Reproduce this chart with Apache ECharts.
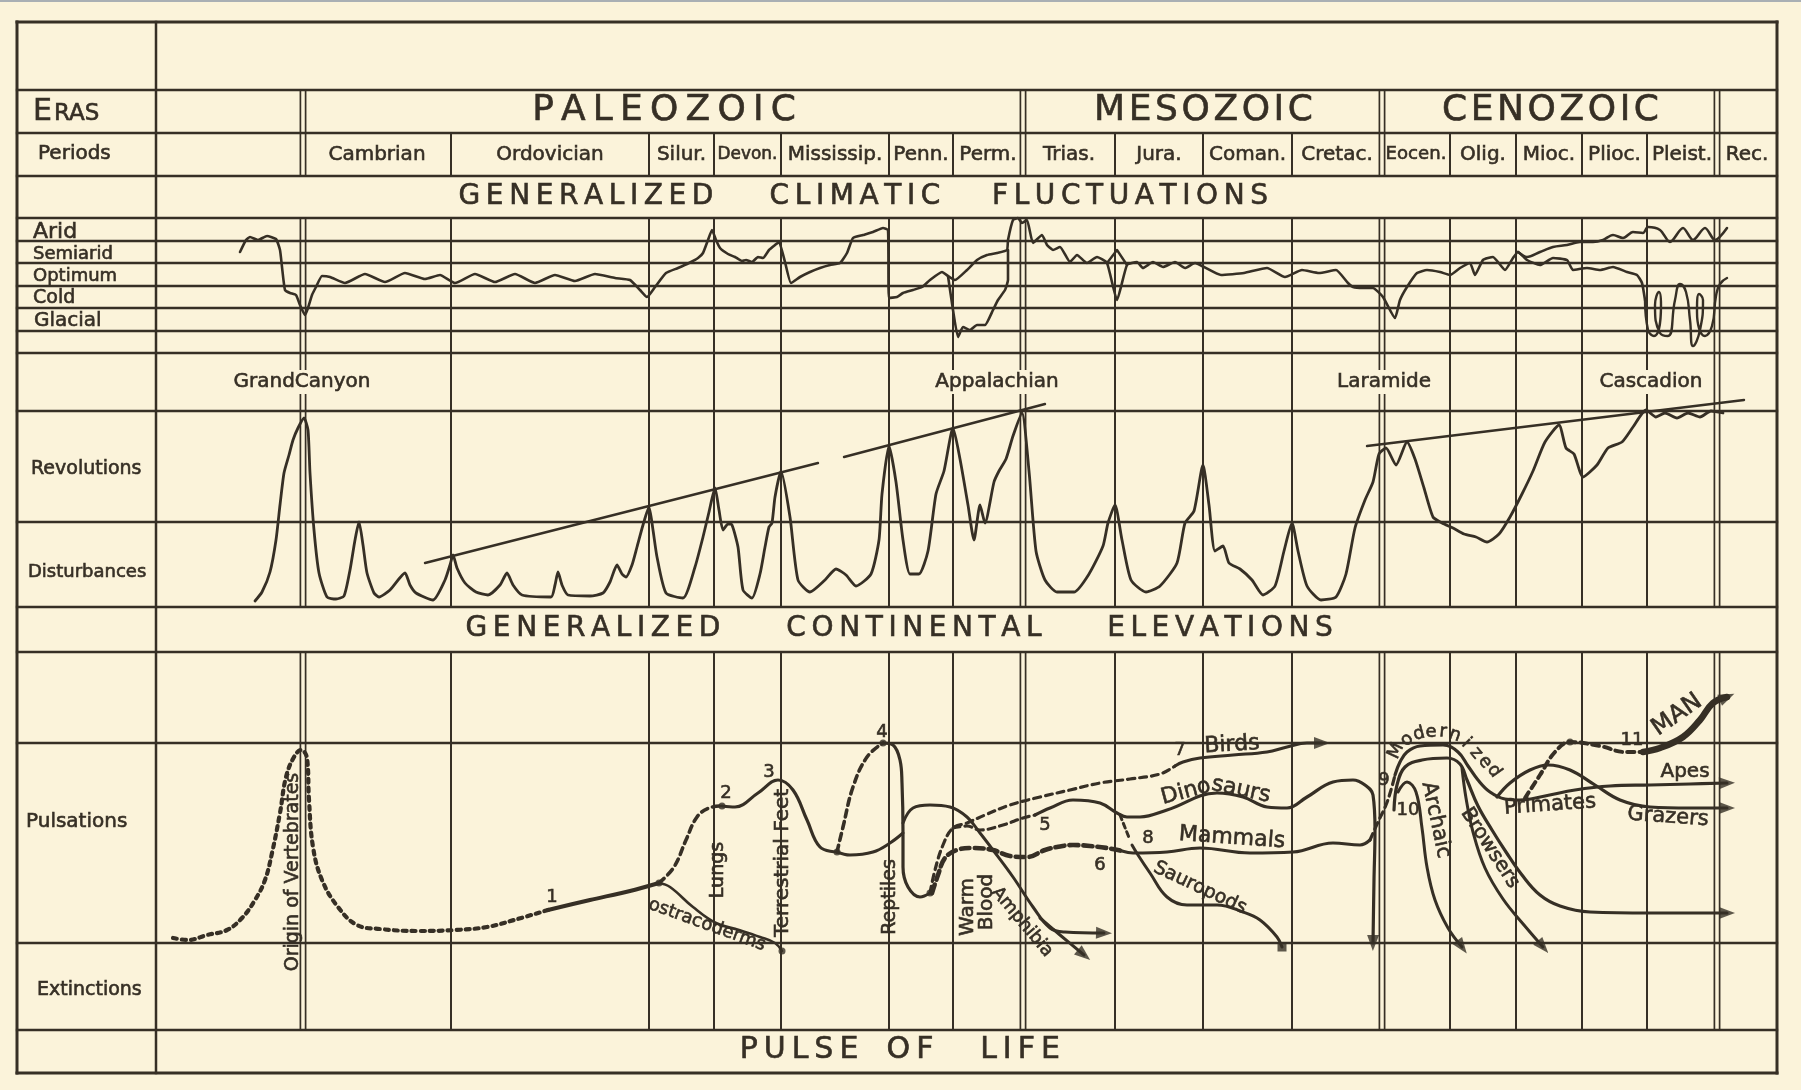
<!DOCTYPE html>
<html><head><meta charset="utf-8">
<script src="https://cdn.jsdelivr.net/npm/echarts/dist/echarts.min.js"></script>
<style>
html,body{margin:0;padding:0;background:#fbf3da;}
#c{width:1801px;height:1090px;}
#edge{position:absolute;left:0;top:0;width:1801px;height:2px;background:#a9afb4;}
</style>
</head><body><div id="c"></div><div id="edge"></div>
<script>
// ================= DATA =================
// timeline: relative units, 0 = left edge of the chart area
const periods = ['Cambrian','Ordovician','Silur.','Devon.','Mississip.','Penn.','Perm.','Trias.','Jura.','Coman.','Cretac.','Eocen.','Olig.','Mioc.','Plioc.','Pleist.','Rec.'];
const periodEdges = [147,295,493,558,625,733,797,867,959,1047,1136,1226,1294,1360,1426,1491,1561,1621];
const eras = ['PALEOZOIC','MESOZOIC','CENOZOIC'];
const eraEdges = [147,867,1226,1561];
// table rows (units from top of table)
const rowEdges = [0,68,111,154,196,219,241,264,286,309,331,389,500,585,630,721,921,1008,1051];
const climateLevels = ['Arid','Semiarid','Optimum','Cold','Glacial'];
const sideLabels = [['Periods',-118,132],['Arid',-123,210],['Semiarid',-123,232],['Optimum',-123,254],['Cold',-123,276],['Glacial',-122,299],['Revolutions',-125,447],['Disturbances',-128,550],['Pulsations',-130,800],['Extinctions',-119,968]];
const sectionTitles = [
  {words:['GENERALIZED','CLIMATIC','FLUCTUATIONS'], x:[430,699,974], y:175},
  {words:['GENERALIZED','CONTINENTAL','ELEVATIONS'], x:[437,758,1064], y:607},
  {words:['PULSE','OF','LIFE'], x:[643,754,864], y:1028}
];

// ---- climate index (0 = bottom margin, 135 = top of Arid) ----
const climateMain = [[84,101],[90,113],[94,116],[102,113],[111,117],[120,114],[124,103],[126,86],[129,63],[134,60],[140,58],[144,48],[149,38],[152,45],[156,58],[160,66],[166,77],[174,76],[189,70],[209,79],[229,71],[249,80],[269,74],[284,78],[299,70],[319,79],[339,71],[359,79],[379,70],[399,78],[419,72],[439,79],[459,75],[474,73],[484,63],[491,56],[499,66],[510,80],[522,85],[533,90],[542,95],[547,100],[552,113],[556,123],[560,113],[564,105],[572,99],[579,96],[586,92],[590,93],[596,91],[602,96],[607,95],[613,103],[619,108],[623,111],[629,91],[635,70],[644,76],[654,81],[664,85],[674,88],[684,90],[691,100],[697,115],[707,118],[717,121],[727,125],[732,123],[733,55],[741,56],[747,60],[757,63],[766,66],[774,73],[786,81],[792,77],[799,73],[811,83],[821,93],[831,98],[841,100],[851,103],[852,113],[857,133],[862,135],[866,130],[871,133],[877,110],[886,118],[891,108],[897,103],[904,106],[914,91],[921,98],[931,90],[941,96],[951,90],[961,53],[971,88],[981,91],[987,85],[997,91],[1007,86],[1019,91],[1029,85],[1039,90],[1048,86],[1065,78],[1088,80],[1111,85],[1129,76],[1146,83],[1163,80],[1180,83],[1192,70],[1197,66],[1207,65],[1217,65],[1227,56],[1239,35],[1244,53],[1251,66],[1261,80],[1271,83],[1284,81],[1294,78],[1304,85],[1314,90],[1319,78],[1327,93],[1337,96],[1349,83],[1357,95],[1362,101],[1371,93],[1384,88],[1397,95],[1411,93],[1417,83],[1431,85],[1444,83],[1457,86],[1471,81],[1481,78],[1486,70],[1489,53]];
const climatePennLow = [[792,77],[797,43],[802,16],[807,26],[814,23],[821,28],[829,28],[837,43],[842,53],[849,63],[852,73],[852,103]];
const climateTriasPeak = [[951,90],[961,103],[971,88]];
const climateCenoUpper = [[1362,101],[1371,96],[1384,101],[1397,106],[1411,108],[1424,111],[1437,111],[1447,113],[1457,118],[1467,115],[1477,121],[1487,120],[1492,126],[1504,123],[1514,111],[1527,125],[1537,113],[1549,125],[1559,113],[1571,125]];
const climateGlacial = [[1489,53],[1492,23],[1498,17],[1505,48],[1503,61],[1499,48],[1504,20],[1512,17],[1519,53],[1524,69],[1530,61],[1534,33],[1537,7],[1544,23],[1547,53],[1543,59],[1541,41],[1549,17],[1556,27],[1560,57],[1564,69],[1571,75]];

// ---- revolutions / disturbances (0 = base) ----
const revolutions = [[99,6],[106,15],[114,35],[120,67],[124,102],[128,134],[133,152],[137,167],[142,179],[148,189],[152,177],[154,134],[158,77],[163,34],[171,10],[180,8],[188,11],[194,37],[199,67],[203,85],[207,62],[211,34],[218,14],[223,10],[234,17],[249,34],[254,22],[260,14],[277,7],[289,27],[294,42],[297,52],[301,39],[309,24],[320,15],[332,12],[344,22],[351,34],[357,22],[366,12],[395,10],[399,22],[402,35],[406,22],[412,12],[434,11],[447,14],[454,25],[461,42],[466,33],[470,30],[476,42],[481,60],[487,82],[493,100],[497,77],[501,50],[510,14],[527,9],[539,40],[547,70],[553,95],[559,119],[563,97],[567,77],[572,83],[576,82],[582,60],[587,17],[596,9],[604,33],[609,60],[613,80],[616,84],[619,110],[625,136],[634,90],[642,27],[654,15],[669,27],[680,38],[690,32],[700,21],[715,33],[723,67],[726,113],[733,161],[740,125],[747,67],[754,33],[763,33],[772,56],[780,113],[788,136],[797,179],[804,148],[812,102],[818,67],[824,102],[829,84],[838,125],[843,136],[850,148],[857,171],[866,194],[873,136],[880,56],[889,27],[901,15],[918,15],[933,33],[947,61],[952,84],[959,102],[966,67],[975,27],[990,15],[1004,21],[1021,44],[1029,84],[1038,96],[1047,142],[1053,102],[1059,56],[1067,61],[1073,44],[1084,38],[1096,27],[1107,12],[1119,21],[1128,56],[1136,84],[1142,56],[1151,21],[1165,7],[1180,10],[1190,33],[1199,79],[1209,107],[1217,125],[1223,153],[1230,159],[1240,142],[1251,165],[1259,148],[1268,119],[1277,90],[1286,84],[1297,79],[1308,73],[1320,70],[1331,65],[1343,73],[1354,90],[1366,113],[1377,136],[1389,165],[1403,182],[1410,159],[1418,153],[1427,130],[1441,142],[1452,159],[1466,165],[1477,180],[1490,197],[1500,190],[1509,194],[1521,189],[1532,194],[1544,190],[1555,196],[1567,194]];
const revTrendA = [[269,44],[662,144]];
const revTrendB = [[688,150],[889,203]];
const revTrendC = [[1211,161],[1588,207]];
const revLabels = [['GrandCanyon',146,225],['Appalachian',841,225],['Laramide',1228,225],['Cascadion',1495,225]];

// ---- pulse of life (0 = bottom of extinctions band) ----
const origin = [[17,92],[32,90],[51,95],[71,100],[86,112],[99,130],[109,150],[116,177],[124,217],[130,253],[138,273],[145,280],[151,272],[153,230],[157,183],[166,150],[182,123],[201,105],[224,101],[262,99],[300,100],[331,103],[358,110],[392,120]];
const stage1 = [[392,120],[434,130],[474,139],[503,147]];
const toLungs = [[503,147],[518,163],[530,190],[541,213],[553,222],[566,224]];
const ostracoderms = [[503,147],[514,143],[537,123],[560,107],[583,100],[604,93],[619,87],[626,79]];
const terrestrial = [[566,224],[579,223],[602,237],[622,250],[637,240],[651,210],[664,183],[681,178]];
const toStage4 = [[681,178],[687,203],[697,243],[711,273],[727,287]];
const toReptiles = [[681,178],[694,175],[717,178],[734,187],[747,197]];
const reptiles = [[727,287],[737,285],[744,270],[746,247],[747,197],[747,163],[752,143],[764,133],[774,137]];
const amphibia = [[747,207],[757,222],[774,225],[794,223],[811,213],[824,197],[837,180],[857,153],[877,123],[894,102],[909,98],[948,97]];
const amphibiaB = [[884,112],[904,95],[928,75]];
const birdsDash = [[774,137],[779,160],[787,185],[797,202],[811,207],[829,215],[854,225],[884,233],[914,240],[944,247],[974,251],[1004,256],[1019,264]];
const birds = [[1019,264],[1027,268],[1044,272],[1077,275],[1111,278],[1131,283],[1151,287],[1166,287]];
const dinoDash = [[797,202],[811,204],[824,200],[847,205],[867,212],[879,215]];
const dinosaurs = [[879,215],[894,222],[917,230],[944,227],[961,217],[971,213],[984,213],[1011,220],[1061,237],[1087,233],[1111,223],[1131,222],[1151,233],[1177,248],[1197,250],[1209,245],[1217,235],[1219,200],[1218,150],[1217,87]];
const mammalDash = [[776,137],[782,155],[789,172],[801,180],[817,182],[837,180],[854,174],[871,173],[889,180],[901,183],[917,185],[934,184],[951,182],[966,179]];
const mammals = [[966,179],[977,177],[1011,178],[1044,182],[1094,177],[1137,178],[1177,187],[1204,185],[1214,190]];
const mammalsTo9 = [[1214,190],[1222,208],[1230,225],[1235,240],[1239,255]];
const sauroDash = [[964,215],[974,190]];
const sauropods = [[976,185],[982,175],[994,157],[1011,133],[1031,125],[1061,125],[1087,118],[1104,110],[1121,93],[1126,83]];
const apes = [[1239,255],[1244,268],[1251,278],[1264,284],[1287,285],[1302,278],[1312,264],[1322,250],[1334,238],[1349,231],[1364,230],[1389,234],[1419,240],[1454,244],[1494,245],[1534,246],[1571,247]];
const grazers = [[1341,233],[1354,247],[1374,260],[1392,265],[1414,260],[1439,245],[1464,230],[1494,223],[1534,222],[1571,222]];
const browsers = [[1238,220],[1241,245],[1249,263],[1266,270],[1291,272],[1304,266],[1311,250],[1322,224],[1336,200],[1350,178],[1366,155],[1384,135],[1404,124],[1434,118],[1494,117],[1571,117]];
const browsersDown = [[1306,262],[1310,232],[1317,198],[1329,162],[1347,131],[1368,105],[1387,83]];
const archaic = [[1242,238],[1251,248],[1260,238],[1266,202],[1271,163],[1279,130],[1292,102],[1306,83]];
const manDash = [[1369,232],[1384,255],[1399,278],[1414,288],[1444,284],[1469,278],[1487,278]];
const man = [[1487,278],[1504,282],[1527,293],[1544,310],[1557,327],[1571,333]];
const nodes = [[503,147],[566,224],[681,178],[727,287],[774,137],[626,79],[1414,288]];
const pulseLabels = [['1',396,133],['2',570,237],['3',613,258],['4',726,298],['5',889,205],['6',944,165],['7',1024,280],['8',992,192],['9',1228,250],['10',1252,220],['11',1476,290],
  ['Origin of Vertebrates',137,158],['ostracoderms',551,105],['Lungs',562,160],['Terrestrial Feet',627,167],['Reptiles',734,133],['Warm',812,123],['Blood',831,128],['Amphibia',866,108],
  ['Birds',1076,285],['Dino',1030,238],['saurs',1085,240],['Mammals',1076,192],['Sauropods',1044,142],
  ['Archaic',1280,210],['Browsers',1334,182],['Primates',1394,225],['Apes',1529,258],['Grazers',1512,213],['MAN',1521,315],
  ['M',1240,279],['o',1251,290],['d',1263,296],['e',1275,298],['r',1287,298],['n',1299,295],['i',1310,287],['z',1320,277],['e',1329,268],['d',1338,259]];

// ================= STYLE =================
const INK = '#362f25', BG = '#fbf3da';
const FONT = '"DejaVu Sans","Liberation Sans",sans-serif';
const labelRot = {'Origin of Vertebrates':90,'Lungs':90,'Terrestrial Feet':90,'Reptiles':90,'Warm':90,'Blood':90,'Amphibia':-50,'ostracoderms':-20,'Sauropods':-25,'Archaic':-78,'Browsers':-57,'Primates':4,'Grazers':-4,'MAN':35,'Birds':3,'Dino':15,'saurs':-12,'Mammals':-4};
const labelSize = {'Origin of Vertebrates':19,'Terrestrial Feet':20,'Lungs':19,'Reptiles':19,'Warm':20,'Blood':20,'Amphibia':18,'ostracoderms':18,'Sauropods':19,'Archaic':21,'Browsers':20,'Primates':21,'Apes':20,'Grazers':21,'MAN':24,'Birds':22,'Dino':22,'saurs':22,'Mammals':22};
const sideSize = {'Arid':22,'Semiarid':18,'Optimum':18,'Glacial':20,'Disturbances':18,'Pulsations':20,'Periods':20};
const modRot = [65,40,15,0,-5,-20,-45,-50,-55,-55];

// ================= BUILD =================
const X0 = -139, X1 = 1621, Y1 = rowEdges[rowEdges.length-1];
const segs = [];
[[X0,0,X1,0],[X0,Y1,X1,Y1],[X0,0,X0,Y1],[X1,0,X1,Y1]].forEach(s=>segs.push(s.concat(3)));
segs.push([0,0,0,Y1,2.5]);
rowEdges.slice(1,-1).forEach(y=>segs.push([X0,y,X1,y,2.3]));
const spans = [[rowEdges[4],rowEdges[13]],[rowEdges[14],rowEdges[17]]];
periodEdges.filter(x=>eraEdges.indexOf(x)<0 && x!==X1).forEach(x=>{
  segs.push([x,rowEdges[2],x,rowEdges[3],2]);
  spans.forEach(s=>segs.push([x,s[0],x,s[1],2]));
});
eraEdges.forEach(x=>[-2.6,2.6].forEach(d=>{
  segs.push([x+d,rowEdges[1],x+d,rowEdges[3],1.7]);
  spans.forEach(s=>segs.push([x+d,s[0],x+d,s[1],1.7]));
}));

const measure = (function(){ const c = document.createElement('canvas').getContext('2d'); return (t,size)=>{ c.font = size+'px '+FONT; return c.measureText(t).width; }; })();
const spaced = (w,sp)=>w.split('').join(sp);
const tableText = [];
eras.forEach((e,i)=>tableText.push({t:spaced(e, i===0?'\u2009':'\u200A'), x:(eraEdges[i]+eraEdges[i+1])/2+1, y:(rowEdges[1]+rowEdges[2])/2-1, size:36}));
periods.forEach((p,i)=>{
  const cell = periodEdges[i+1]-periodEdges[i]-7;
  const size = Math.min(20, Math.floor(20*cell/measure(p,20)*10)/10);
  tableText.push({t:p, x:(periodEdges[i]+periodEdges[i+1])/2, y:(rowEdges[2]+rowEdges[3])/2, size:size});
});
sectionTitles.forEach((s,k)=>s.words.forEach((w,i)=>tableText.push({t:spaced(w,'\u2009'), x:s.x[i], y:s.y, size:k===2?30:28})));
tableText.push({t:'E', x:-123, y:90, size:30, align:'left'});
tableText.push({t:'RAS', x:-102, y:92, size:23, align:'left'});
sideLabels.forEach(s=>tableText.push({t:s[0], x:s[1], y:s[2], size:sideSize[s[0]]||19, align:'left'}));

const revText = revLabels.map(r=>({t:r[0], x:r[1], y:r[2], size:20, bg:true}));
const nMod = 10;
const pulseText = pulseLabels.map((p,i)=>{
  const isNum = /^[0-9]+$/.test(p[0]);
  const isMod = i >= pulseLabels.length-nMod;
  return {t:p[0], x:p[1], y:p[2], size: isNum?18:(isMod?18:(labelSize[p[0]]||20)), rot: isMod?modRot[i-(pulseLabels.length-nMod)]:(labelRot[p[0]]||0)};
});

function textSeries(grid, items, z){
  return {type:'custom', xAxisIndex:grid, yAxisIndex:grid, z:z||10, silent:true, animation:false, clip:false,
    data: items.map(d=>[d.x,d.y]),
    renderItem:(params, api)=>{
      const d = items[params.dataIndex];
      const pt = api.coord([d.x,d.y]);
      const al = d.align||'center';
      const st = {text:d.t, fill:INK, stroke:INK, lineWidth:0.6, font:'normal '+d.size+'px '+FONT, align:al, textAlign:al, verticalAlign:'middle', textVerticalAlign:'middle'};
      if (d.bg){ st.backgroundColor = BG; st.padding = [2,4]; }
      return {type:'text', x:pt[0], y:pt[1], rotation:(d.rot||0)*Math.PI/180, style:st};
    }};
}
function line(grid, data, w, dash, smooth, z){
  return {type:'line', xAxisIndex:grid, yAxisIndex:grid, data:data, symbol:'none', smooth:smooth||false, clip:false, silent:true, animation:false, z:z||5,
    lineStyle:{color:INK, width:w, type:dash||'solid', cap:'round', join:'round'}};
}
function arrowData(list){
  return list.map(d=>{
    const p = d[d.length-1], q = d[d.length-2];
    const ang = Math.atan2(p[1]-q[1], p[0]-q[0])*180/Math.PI;
    return {value:p, symbolRotate: ang-90};
  });
}

const DASH = [7,5], DOT = [4,5];
const series = [
  {type:'custom', xAxisIndex:0, yAxisIndex:0, z:1, silent:true, animation:false, data:[[0,0]],
   renderItem:(params, api)=>({type:'group', children: segs.map(s=>{
     const a = api.coord([s[0],s[1]]), b = api.coord([s[2],s[3]]);
     return {type:'line', shape:{x1:a[0],y1:a[1],x2:b[0],y2:b[1]}, style:{stroke:INK, lineWidth:s[4], lineCap:'square'}};
   })})},
  textSeries(0, tableText, 12),
  // climate
  line(1, climateMain, 2.6, 'solid', 0.15),
  line(1, climatePennLow, 2.6, 'solid', 0.15),
  line(1, climateTriasPeak, 2.4),
  line(1, climateCenoUpper, 2.6, 'solid', 0.3),
  line(1, climateGlacial, 2.4, 'solid', 0.5),
  // revolutions
  line(2, revolutions, 2.8, 'solid', 0.2),
  line(2, revTrendA, 2.4), line(2, revTrendB, 2.4), line(2, revTrendC, 2.4),
  textSeries(2, revText, 12),
  // pulse of life
  line(3, origin, 4.2, DOT, 0.4),
  line(3, stage1, 4, 'solid', 0.3),
  line(3, toLungs, 3.6, DASH, 0.4),
  line(3, ostracoderms, 2.6, 'solid', 0.4),
  line(3, terrestrial, 3.2, 'solid', 0.4),
  line(3, toStage4, 3.6, DASH, 0.4),
  line(3, toReptiles, 3, 'solid', 0.4),
  line(3, reptiles, 3.2, 'solid', 0.4),
  line(3, amphibia, 3, 'solid', 0.4),
  line(3, amphibiaB, 3, 'solid', 0.3),
  line(3, birdsDash, 3.2, DASH, 0.4),
  line(3, birds, 3, 'solid', 0.4),
  line(3, dinoDash, 3.2, DASH, 0.4),
  line(3, dinosaurs, 3.2, 'solid', 0.4),
  line(3, mammalDash, 4.6, [9,5], 0.4),
  line(3, mammals, 3.2, 'solid', 0.4),
  line(3, mammalsTo9, 3.2, DASH, 0.4),
  line(3, sauroDash, 3, [5,4]),
  line(3, sauropods, 3, 'solid', 0.4),
  line(3, apes, 3.2, 'solid', 0.4),
  line(3, grazers, 3.2, 'solid', 0.4),
  line(3, browsers, 3.2, 'solid', 0.4),
  line(3, browsersDown, 3, 'solid', 0.4),
  line(3, archaic, 3, 'solid', 0.4),
  line(3, manDash, 4, DASH, 0.4),
  line(3, man, 6.5, 'solid', 0.4),
  {type:'scatter', xAxisIndex:3, yAxisIndex:3, z:7, silent:true, animation:false, symbol:'triangle', symbolSize:[12,16],
   itemStyle:{color:INK}, data: arrowData([amphibia, amphibiaB, birds, dinosaurs, archaic, browsersDown, apes, grazers, browsers, man])},
  {type:'scatter', xAxisIndex:3, yAxisIndex:3, z:7, silent:true, animation:false, symbol:'circle', symbolSize:7, itemStyle:{color:INK}, data:nodes},
  {type:'scatter', xAxisIndex:3, yAxisIndex:3, z:7, silent:true, animation:false, symbol:'rect', symbolSize:9, itemStyle:{color:INK}, data:[sauropods[sauropods.length-1]]},
  textSeries(3, pulseText, 12)
];

const chart = echarts.init(document.getElementById('c'), null, {renderer:'canvas'});
chart.setOption({
  backgroundColor: BG,
  animation: false,
  grid: [
    {left:17, top:22, width:1760, height:1051},
    {left:156, top:218, width:1621, height:135},
    {left:156, top:353, width:1621, height:254},
    {left:156, top:652, width:1621, height:378}
  ],
  xAxis: [
    {type:'value', gridIndex:0, min:X0, max:X1, show:false},
    {type:'value', gridIndex:1, min:0, max:1621, show:false},
    {type:'value', gridIndex:2, min:0, max:1621, show:false},
    {type:'value', gridIndex:3, min:0, max:1621, show:false}
  ],
  yAxis: [
    {type:'value', gridIndex:0, min:0, max:Y1, inverse:true, show:false},
    {type:'value', gridIndex:1, min:0, max:135, show:false},
    {type:'value', gridIndex:2, min:0, max:254, show:false},
    {type:'value', gridIndex:3, min:0, max:378, show:false}
  ],
  series: series
});
</script>
</body></html>
